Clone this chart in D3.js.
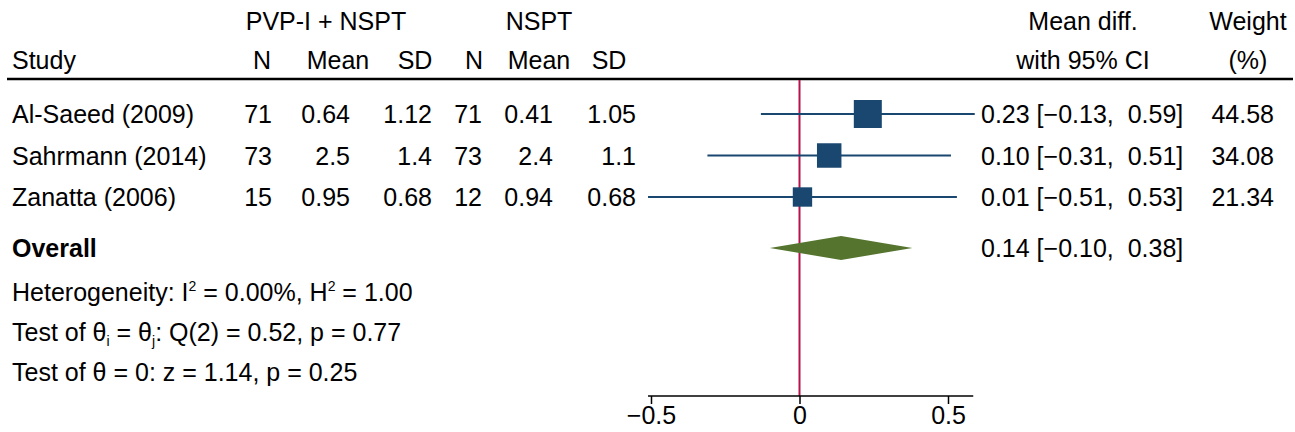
<!DOCTYPE html>
<html>
<head>
<meta charset="utf-8">
<script src="https://cdn.jsdelivr.net/npm/d3@7"></script>
<style>
  body { margin: 0; background: #fff; }
  text, tspan { font-family: "Liberation Sans", Arial, sans-serif; fill: #000; }
</style>
</head>
<body>
<svg id="chart" width="1295" height="432"></svg>
<script>
// study data
var studies = ["Al-Saeed (2009)", "Sahrmann (2014)", "Zanatta (2006)"];
var n1 = [71, 73, 15];
var mean1 = ["0.64", "2.5", "0.95"];
var sd1 = ["1.12", "1.4", "0.68"];
var n2 = [71, 73, 12];
var mean2 = ["0.41", "2.4", "0.94"];
var sd2 = ["1.05", "1.1", "0.68"];
var effect = [0.23, 0.10, 0.01];
var lower = [-0.13, -0.31, -0.51];
var upper = [0.59, 0.51, 0.53];
var weight = [44.58, 34.08, 21.34];

var overall = { est: 0.14, lo: -0.10, hi: 0.38 };
var xTicks = [-0.5, 0, 0.5];

var svg = d3.select("#chart");
var fs = 25;

var x = d3.scaleLinear().domain([-0.5, 0.5]).range([651, 948]);
var rowY = d3.scalePoint().domain(d3.range(studies.length)).range([114, 197]);
var overallY = 248;

function fmt(v){
  return (v < 0 ? "\u2212" : "") + Math.abs(v).toFixed(2);
}
function ciText(e, l, h){
  return fmt(e) + " [" + fmt(l) + ", " + (h < 0 ? "" : " ") + fmt(h) + "]";
}

function txt(x0, y0, s, anchor, bold){
  return svg.append("text")
    .attr("x", x0).attr("y", y0)
    .attr("text-anchor", anchor || "start")
    .style("font-size", fs + "px")
    .style("font-weight", bold ? "bold" : "normal")
    .style("white-space", "pre")
    .text(s);
}

// headers
txt(326, 30, "PVP-I + NSPT", "middle");
txt(539, 30, "NSPT", "middle");
txt(1083, 30, "Mean diff.", "middle");
txt(1248, 30, "Weight", "middle");
txt(12, 69, "Study");
txt(262, 69, "N", "middle");
txt(338, 69, "Mean", "middle");
txt(415, 69, "SD", "middle");
txt(474, 69, "N", "middle");
txt(539, 69, "Mean", "middle");
txt(609, 69, "SD", "middle");
txt(1083, 69, "with 95% CI", "middle");
txt(1248, 69, "(%)", "middle");

svg.append("line")
  .attr("x1", 7).attr("x2", 1293)
  .attr("y1", 79).attr("y2", 79)
  .attr("stroke", "#000").attr("stroke-width", 2.5);

// reference line at zero
svg.append("line")
  .attr("x1", x(0)).attr("x2", x(0))
  .attr("y1", 80).attr("y2", 396)
  .attr("stroke", "#b5134b").attr("stroke-width", 2);

// study rows
studies.forEach(function(s, i){
  var y = rowY(i) + 9;
  txt(12, y, s);
  txt(272, y, n1[i], "end");
  txt(350, y, mean1[i], "end");
  txt(432, y, sd1[i], "end");
  txt(482, y, n2[i], "end");
  txt(553, y, mean2[i], "end");
  txt(636, y, sd2[i], "end");
  txt(981, y, ciText(effect[i], lower[i], upper[i]));
  txt(1274, y, weight[i].toFixed(2), "end");
});

var g = svg.append("g");
g.selectAll("line.ci")
  .data(studies)
  .enter().append("line")
  .attr("class", "ci")
  .attr("x1", function(d, i){ return x(lower[i]); })
  .attr("x2", function(d, i){ return x(upper[i]); })
  .attr("y1", function(d, i){ return rowY(i); })
  .attr("y2", function(d, i){ return rowY(i); })
  .attr("stroke", "#1a476f").attr("stroke-width", 2);

var side = d3.scaleSqrt().domain([0, d3.max(weight)]).range([0, 28]);
g.selectAll("rect.box")
  .data(studies)
  .enter().append("rect")
  .attr("class", "box")
  .attr("x", function(d, i){ return x(effect[i]) - side(weight[i]) / 2; })
  .attr("y", function(d, i){ return rowY(i) - side(weight[i]) / 2; })
  .attr("width", function(d, i){ return side(weight[i]); })
  .attr("height", function(d, i){ return side(weight[i]); })
  .attr("fill", "#1a476f");

// overall
txt(12, overallY + 9, "Overall", "start", true);
svg.append("path")
  .attr("d", "M" + x(overall.lo) + "," + overallY +
             "L" + x(overall.est) + "," + (overallY - 12) +
             "L" + x(overall.hi) + "," + overallY +
             "L" + x(overall.est) + "," + (overallY + 12) + "Z")
  .attr("fill", "#55752f");
txt(981, overallY + 9, ciText(overall.est, overall.lo, overall.hi));

// heterogeneity stats
var t1 = txt(12, 301, "Heterogeneity: I");
t1.append("tspan").attr("dy", -10).style("font-size", "14px").text("2");
t1.append("tspan").attr("dy", 10).text(" = 0.00%, H");
t1.append("tspan").attr("dy", -10).style("font-size", "14px").text("2");
t1.append("tspan").attr("dy", 10).text(" = 1.00");

var t2 = txt(12, 341, "Test of \u03b8");
t2.append("tspan").attr("dy", 5).style("font-size", "14px").text("i");
t2.append("tspan").attr("dy", -5).text(" = \u03b8");
t2.append("tspan").attr("dy", 5).style("font-size", "14px").text("j");
t2.append("tspan").attr("dy", -5).text(": Q(2) = 0.52, p = 0.77");

txt(12, 381, "Test of \u03b8 = 0: z = 1.14, p = 0.25");

// x axis
var axis = svg.append("g")
  .attr("transform", "translate(0,396)")
  .call(d3.axisBottom(x).tickValues(xTicks).tickSize(8).tickSizeOuter(0)
    .tickFormat(function(d){ return d === 0 ? "0" : (d < 0 ? "\u2212" : "") + Math.abs(d); }));
axis.select(".domain").attr("d", "M" + x(-0.51) + ",0H" + x(0.585)).attr("stroke", "#000").attr("stroke-width", 1.5);
axis.selectAll(".tick line").attr("stroke", "#000").attr("stroke-width", 1.5);
axis.selectAll(".tick text")
  .attr("y", 10)
  .style("font-family", "Liberation Sans, Arial, sans-serif")
  .style("font-size", fs + "px")
  .attr("fill", "#000");
</script>
</body>
</html>
